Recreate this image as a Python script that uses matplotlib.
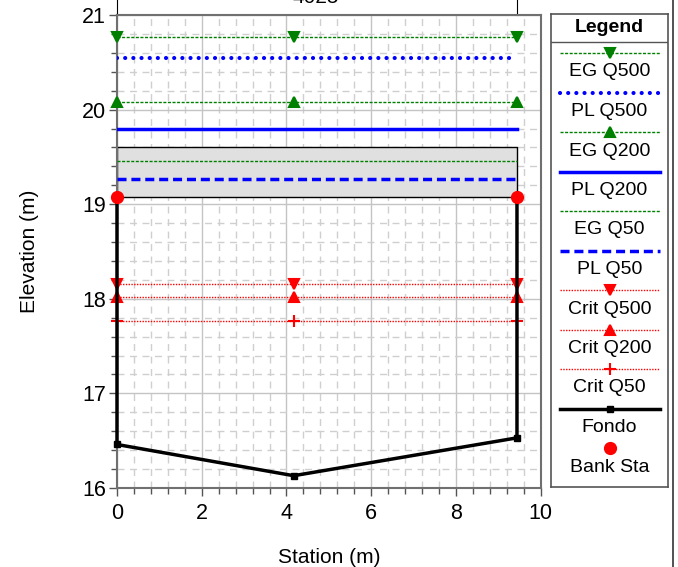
import matplotlib
matplotlib.use("Agg")
import matplotlib.pyplot as plt
from matplotlib.lines import Line2D
from matplotlib.ticker import MultipleLocator
import numpy as np

plt.rcParams['font.family'] = ['Liberation Sans', 'DejaVu Sans']

# ---- data ----
title = "4025"
fondo_x = [0.0, 0.0, 4.17, 9.44, 9.44]
fondo_y = [19.08, 16.46, 16.13, 16.53, 19.08]
node_x = [0.0, 4.17, 9.44]
node_y = [16.46, 16.13, 16.53]
bank_x = [0.0, 9.44]
bank_y = [19.08, 19.08]
deck_bottom = 19.08
deck_top = 19.60
ws_labels = ["EG Q500", "PL Q500", "EG Q200", "PL Q200", "EG Q50", "PL Q50",
             "Crit Q500", "Crit Q200", "Crit Q50"]
ws_values = [20.77, 20.55, 20.08, 19.80, 19.46, 19.27, 18.16, 18.02, 17.77]
legend_labels = ws_labels + ["Fondo", "Bank Sta"]

green = "#008000"
blue = "#0000ff"
red = "#ff0000"
styles = [
    dict(color=green, lw=1.0, ls=(0, (2.2, 1.1)), marker='v', ms=7.5),
    dict(color=blue, lw=3.0, ls=(0, (0.01, 1.95)), marker=None, ms=0, cap='round'),
    dict(color=green, lw=1.0, ls=(0, (2.2, 1.1)), marker='^', ms=7.5),
    dict(color=blue, lw=2.5, ls='-', marker=None, ms=0),
    dict(color=green, lw=1.0, ls=(0, (2.2, 1.1)), marker=None, ms=0),
    dict(color=blue, lw=2.5, ls=(0, (2.6, 1.4)), marker=None, ms=0),
    dict(color=red, lw=1.0, ls=(0, (1, 1)), marker='v', ms=7.5),
    dict(color=red, lw=1.0, ls=(0, (1, 1)), marker='^', ms=7.5),
    dict(color=red, lw=1.0, ls=(0, (1, 1)), marker='+', ms=8),
]

W, H = 678, 567
fig = plt.figure(figsize=(W / 100, H / 100), dpi=100)
ax = fig.add_axes([117 / W, 1 - 488 / H, (540.7 - 117) / W, (488 - 15) / H])

ax.set_xlim(0, 10)
ax.set_ylim(16, 21)
ax.xaxis.set_major_locator(MultipleLocator(2))
ax.xaxis.set_minor_locator(MultipleLocator(0.4))
ax.yaxis.set_major_locator(MultipleLocator(1))
ax.yaxis.set_minor_locator(MultipleLocator(0.2))
ax.grid(which='major', color='#c4c4c4', lw=1.0, ls='-', zorder=0)
ax.grid(which='minor', color='#cfcfcf', lw=1.0, ls=(0, (5, 4)), zorder=0)
ax.set_axisbelow(True)
ax.tick_params(which='major', direction='out', length=6, width=1, color='#555555',
               labelsize=15.5)
ax.tick_params(axis='y', which='major', pad=2)
ax.tick_params(axis='x', which='major', pad=5)
ax.tick_params(which='minor', direction='out', length=4, width=1, color='#555555')
for s in ax.spines.values():
    s.set_color('#707070')
    s.set_linewidth(1.5)

# deck
ax.fill_between([bank_x[0], bank_x[1]], deck_bottom, deck_top, facecolor='#e0e0e0',
                edgecolor='black', lw=1.0, zorder=2)

for val, st in zip(ws_values, styles):
    ln, = ax.plot([bank_x[0], bank_x[1]], [val, val], color=st['color'], lw=st['lw'],
                  ls=st['ls'], zorder=3)
    if st.get('cap'):
        ln.set_dash_capstyle('round')
    if st['marker']:
        ax.plot(node_x, [val] * len(node_x), ls='none', marker=st['marker'],
                ms=st['ms'], color=st['color'], mew=1.5, zorder=4, clip_on=False)

ax.plot(fondo_x, fondo_y, color='black', lw=2.5, zorder=5, clip_on=False)
ax.plot(node_x, node_y, ls='none', marker='s', ms=4, color='black', zorder=6, clip_on=False)
ax.plot(bank_x, bank_y, ls='none', marker='o', ms=8.5, color=red, zorder=7, clip_on=False)

# thin lines above the plot
for bx in bank_x:
    ax.plot([bx, bx], [21, 21.4], color='black', lw=0.8, clip_on=False, zorder=1)

ax.set_xlabel("Station (m)", fontsize=15, labelpad=17)
ax.set_ylabel("Elevation (m)", fontsize=15, labelpad=31)
fig.text(316 / W, 1 - 3 / H, title, ha='center', va='baseline', fontsize=15)

# legend panel
lx0, lx1, ly0, ly1 = 551, 668, 14, 487
lax = fig.add_axes([lx0 / W, 1 - ly1 / H, (lx1 - lx0) / W, (ly1 - ly0) / H])
lax.set_xlim(lx0, lx1)
lax.set_ylim(ly1, ly0)
lax.set_xticks([])
lax.set_yticks([])
for s in lax.spines.values():
    s.set_color('#555555')
    s.set_linewidth(1.2)
lax.text((lx0 + lx1) / 2, 27, "Legend", ha='center', va='center', fontsize=14,
         fontweight='bold')
lax.plot([lx0, lx1], [42, 42], color='#555555', lw=1.0)
cx = (lx0 + lx1) / 2
for i, lab in enumerate(legend_labels):
    y_line = 53 + i * 39.5
    y_text = y_line + 19
    if i < len(styles):
        st = styles[i]
        ln, = lax.plot([560, 660], [y_line, y_line], color=st['color'], lw=st['lw'],
                       ls=st['ls'])
        if st.get('cap'):
            ln.set_dash_capstyle('round')
        if st['marker']:
            lax.plot([cx], [y_line], ls='none', marker=st['marker'], ms=st['ms'],
                     color=st['color'], mew=1.5)
    elif lab == "Fondo":
        lax.plot([560, 660], [y_line, y_line], color='black', lw=2.5)
        lax.plot([cx], [y_line], marker='s', ms=4, color='black')
    else:
        lax.plot([cx], [y_line], marker='o', ms=8.5, color=red, ls='none')
    lax.text(cx, y_text, lab, ha='center', va='center', fontsize=14)

# outer frame line at right
fig.add_artist(Line2D([673 / W, 673 / W], [0, 1], color='#333333', lw=1.2))

fig.savefig("out.png", dpi=100)
